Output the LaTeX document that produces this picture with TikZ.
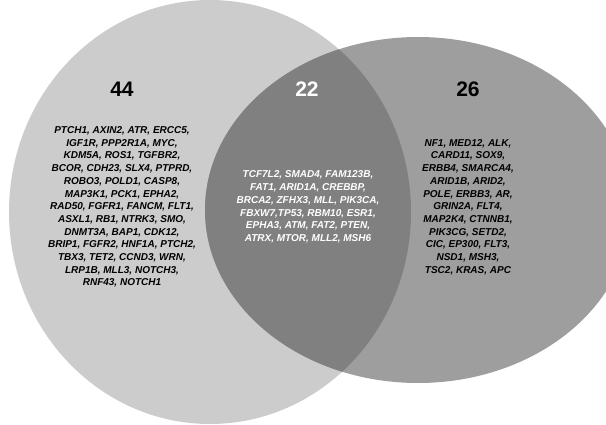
\documentclass[tikz,border=0pt]{standalone}
\usepackage{fontspec}
\setmainfont{Liberation Sans}
\usepackage{tikz}
\definecolor{leftgray}{gray}{0.80}
\definecolor{rightgray}{gray}{0.62}
\definecolor{lensgray}{gray}{0.50}

\begin{document}
\begin{tikzpicture}[x=1pt, y=-1pt,
    genes/.style={align=center, font=\bfseries\itshape\fontsize{10}{12.7}\selectfont, inner sep=0pt},
    count/.style={font=\bfseries\fontsize{21}{24}\selectfont, inner sep=0pt},
]
    \useasboundingbox (0,0) rectangle (606,424);
    \fill[leftgray] (210,212) ellipse [x radius=201, y radius=212];
    \fill[rightgray] (418,210) ellipse [x radius=213, y radius=173];
    \begin{scope}
        \clip (210,212) ellipse [x radius=201, y radius=212];
        \fill[lensgray] (418,210) ellipse [x radius=213, y radius=173];
    \end{scope}
    \node[count] (n44) at (122,89) {44};
    \node[count, white] (n22) at (307,89) {22};
    \node[count] (n26) at (468,89) {26};
    \node[genes] (left) at (122,207) {PTCH1, AXIN2, ATR, ERCC5,\\ IGF1R, PPP2R1A, MYC,\\ KDM5A, ROS1, TGFBR2,\\ BCOR, CDH23, SLX4, PTPRD,\\ ROBO3, POLD1, CASP8,\\ MAP3K1, PCK1, EPHA2,\\ RAD50, FGFR1, FANCM, FLT1,\\ ASXL1, RB1, NTRK3, SMO,\\ DNMT3A, BAP1, CDK12,\\ BRIP1, FGFR2, HNF1A, PTCH2,\\ TBX3, TET2, CCND3, WRN,\\ LRP1B, MLL3, NOTCH3,\\ RNF43, NOTCH1};
    \node[genes, white] (both) at (308,207) {TCF7L2, SMAD4, FAM123B,\\ FAT1, ARID1A, CREBBP,\\ BRCA2, ZFHX3, MLL, PIK3CA,\\ FBXW7,TP53, RBM10, ESR1,\\ EPHA3, ATM, FAT2, PTEN,\\ ATRX, MTOR, MLL2, MSH6};
    \node[genes] (right) at (468,207) {NF1, MED12, ALK,\\ CARD11, SOX9,\\ ERBB4, SMARCA4,\\ ARID1B, ARID2,\\ POLE, ERBB3, AR,\\ GRIN2A, FLT4,\\ MAP2K4, CTNNB1,\\ PIK3CG, SETD2,\\ CIC, EP300, FLT3,\\ NSD1, MSH3,\\ TSC2, KRAS, APC};
\end{tikzpicture}
\end{document}
